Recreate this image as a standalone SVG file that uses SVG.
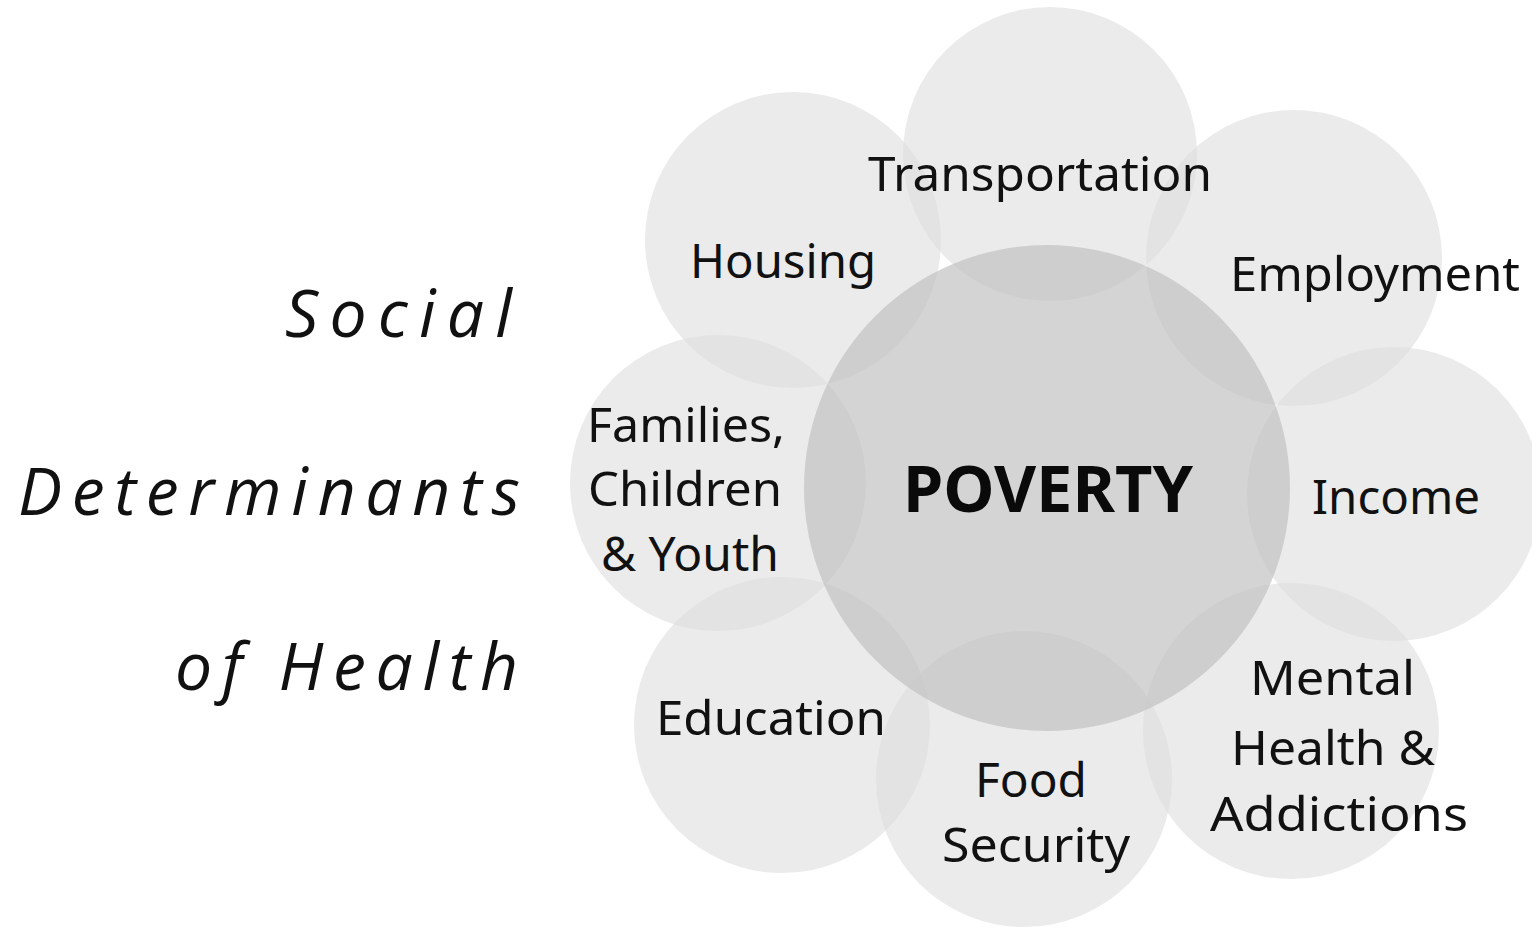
<svg xmlns="http://www.w3.org/2000/svg" width="1532" height="927" viewBox="0 0 1532 927">
<style>
.bg{fill:#ffffff}
.petal{fill:#dedede;fill-opacity:0.6}
.core{fill:#c2c2c2;fill-opacity:0.7}
.lbl{font-family:"Noto Sans","Open Sans",sans-serif;font-size:48px;fill:#111111}
.core-lbl{font-family:"Noto Sans","Open Sans",sans-serif;font-size:64px;font-weight:bold;fill:#0a0a0a}
.title{font-family:"Open Sans","Lato",sans-serif;font-style:italic;font-size:66px;fill:#111111}
</style>
<rect class="bg" x="0" y="0" width="1532" height="927"/>
<g id="title">
<text class="title" x="285" y="337" textLength="227" lengthAdjust="spacing">Social</text>
<text class="title" x="18" y="515" textLength="502" lengthAdjust="spacing">Determinants</text>
<text class="title" x="175" y="690" textLength="343" lengthAdjust="spacing">of Health</text>
</g>
<g id="connectors"></g>
<g id="housing"><circle class="petal" cx="793" cy="240" r="148"/><text class="lbl" x="690" y="278" textLength="186" lengthAdjust="spacingAndGlyphs">Housing</text></g>
<g id="employment"><circle class="petal" cx="1294" cy="258" r="148"/><text class="lbl" x="1230" y="291" textLength="290" lengthAdjust="spacingAndGlyphs">Employment</text></g>
<g id="transportation"><circle class="petal" cx="1050" cy="154" r="147"/><text class="lbl" x="868" y="191" textLength="344" lengthAdjust="spacingAndGlyphs">Transportation</text></g>
<g id="families"><circle class="petal" cx="718" cy="483" r="148"/>
<text class="lbl" x="587" y="442" textLength="198" lengthAdjust="spacingAndGlyphs">Families,</text>
<text class="lbl" x="588" y="506" textLength="194" lengthAdjust="spacingAndGlyphs">Children</text>
<text class="lbl" x="601" y="571" textLength="178" lengthAdjust="spacingAndGlyphs">&amp; Youth</text></g>
<g id="income"><circle class="petal" cx="1394" cy="494" r="147"/><text class="lbl" x="1312" y="514" textLength="168" lengthAdjust="spacingAndGlyphs">Income</text></g>
<g id="education"><circle class="petal" cx="782" cy="725" r="148"/><text class="lbl" x="656" y="735" textLength="230" lengthAdjust="spacingAndGlyphs">Education</text></g>
<g id="food-security"><circle class="petal" cx="1024" cy="779" r="148"/>
<text class="lbl" x="975" y="797" textLength="112" lengthAdjust="spacingAndGlyphs">Food</text>
<text class="lbl" x="942" y="862" textLength="188" lengthAdjust="spacingAndGlyphs">Security</text></g>
<g id="mental-health"><circle class="petal" cx="1291" cy="731" r="148"/>
<text class="lbl" x="1250" y="695" textLength="165" lengthAdjust="spacingAndGlyphs">Mental</text>
<text class="lbl" x="1231" y="765" textLength="204" lengthAdjust="spacingAndGlyphs">Health &amp;</text>
<text class="lbl" x="1210" y="831" textLength="258" lengthAdjust="spacingAndGlyphs">Addictions</text></g>
<g id="poverty"><circle class="core" cx="1047" cy="488" r="243"/><text class="core-lbl" x="903" y="512" textLength="290" lengthAdjust="spacingAndGlyphs">POVERTY</text></g>
</svg>
